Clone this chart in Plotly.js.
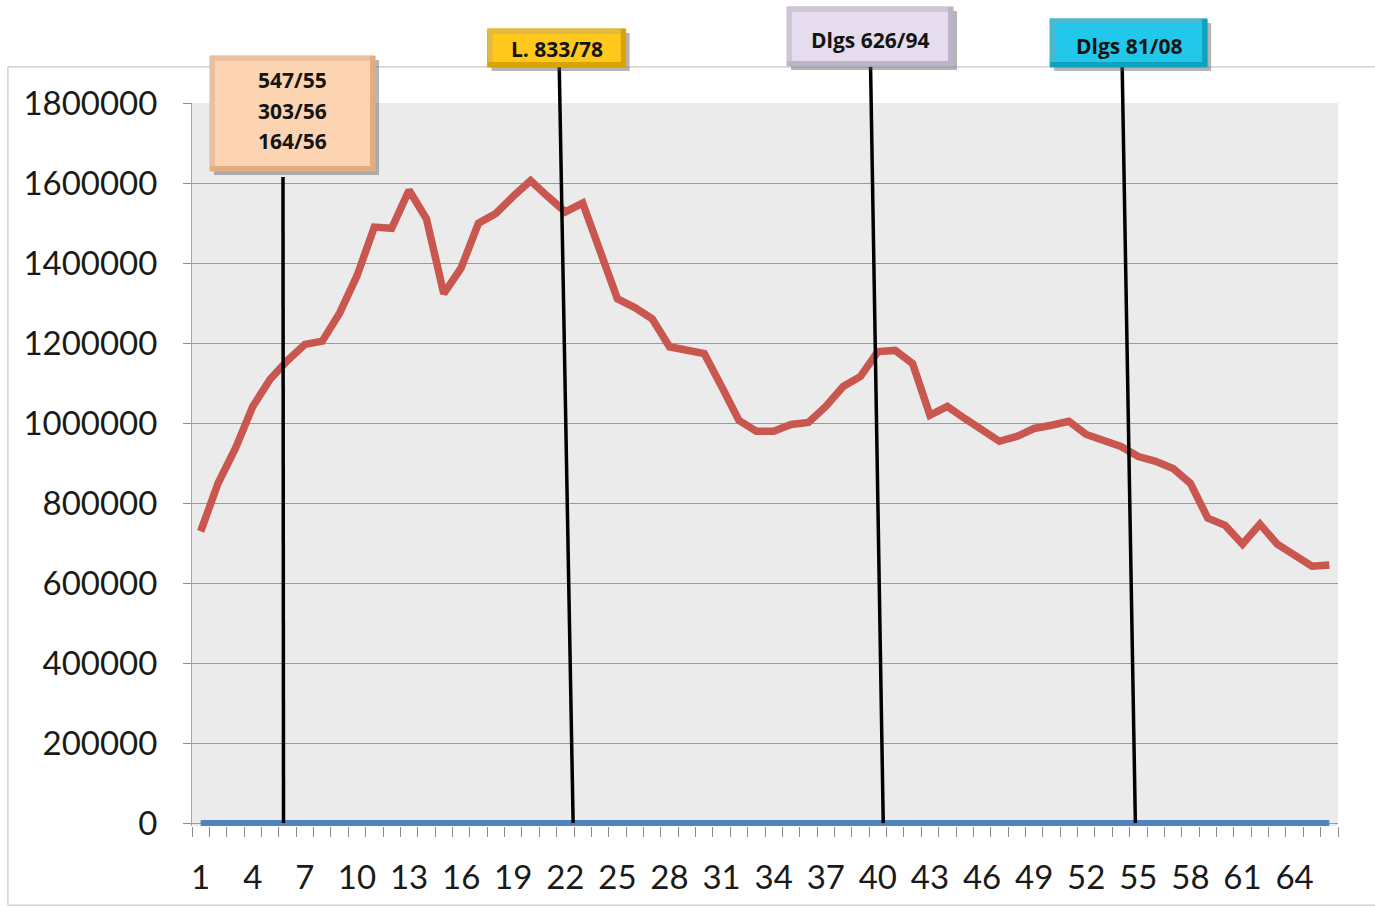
<!DOCTYPE html>
<html>
<head>
<meta charset="utf-8">
<script src="https://cdn.plot.ly/plotly-3.0.1.min.js"></script>
<style>html,body{margin:0;padding:0;background:#fff;}#chart{width:1375px;height:907px;}</style>
</head>
<body>
<div id="chart"></div>
<script>
const categories = [1,2,3,4,5,6,7,8,9,10,11,12,13,14,15,16,17,18,19,20,21,22,23,24,25,26,27,28,29,30,31,32,33,34,35,36,37,38,39,40,41,42,43,44,45,46,47,48,49,50,51,52,53,54,55,56,57,58,59,60,61,62,63,64,65,66];
const redValues = [730000,850000,937000,1042000,1110000,1157000,1197000,1205000,1275000,1368000,
  1490000,1487000,1582000,1511000,1324000,1388000,1500000,1524000,1567000,1606000,
  1566000,1528000,1550000,1436000,1311000,1289000,1261000,1191000,1184000,1174000,
  1092000,1007000,980000,980000,997000,1002000,1042000,1092000,1117000,1179000,
  1182000,1149000,1020000,1042000,1012000,982000,955000,967000,987000,995000,
  1005000,972000,955000,942000,917000,905000,887000,850000,763000,745000,
  698000,748000,698000,668000,643000,646000];
const blueValues = [0,0,0,0,0,0,0,0,0,0,0,0,0,0,0,0,0,0,0,0,0,0,0,0,0,0,0,0,0,0,0,0,0,0,0,0,0,0,0,0,0,0,0,0,0,0,0,0,0,0,0,0,0,0,0,0,0,0,0,0,0,0,0,0,0,0];
const xTickLabels = [1,4,7,10,13,16,19,22,25,28,31,34,37,40,43,46,49,52,55,58,61,64];
const yTickValues = [0,200000,400000,600000,800000,1000000,1200000,1400000,1600000,1800000];
const lawLabels = [['547/55','303/56','164/56'],['L. 833/78'],['Dlgs 626/94'],['Dlgs 81/08']];
const lawBottomX = [5.77, 22.45, 40.31, 54.83];
const lawTopX = [5.74, 21.65, 39.58, 54.07];

const boxStyles = [
  {bg:'#fcd4b2', edge:'#e2ad80', x:6.29, y:0.9855, w:165, h:115, top:0.8975, textY:[1.0319, 0.9889, 0.9474]},
  {bg:'#ffc81a', edge:'#d9a300', x:21.5, y:1.0762, w:138, h:38, top:1.05, textY:[1.0748]},
  {bg:'#e5dded', edge:'#bdb3c8', x:39.55, y:1.0921, w:166, h:59, top:1.05, textY:[1.0873]},
  {bg:'#22c8ea', edge:'#0ea2c0', x:54.44, y:1.0831, w:157, h:48, top:1.05, textY:[1.0789]}
];

const traces = [
  {x: categories, y: blueValues, type:'scatter', mode:'lines',
   line:{color:'#4f84be', width:7}, hoverinfo:'skip'},
  {x: categories, y: redValues, type:'scatter', mode:'lines',
   line:{color:'#c9564f', width:7.5}, hoverinfo:'skip'}
];

const shapes = [
  {type:'rect', xref:'paper', yref:'paper', x0:-0.1606, x1:1.05, y0:-0.1095, y1:1.0499,
   line:{color:'#bcbcbc', width:1}, fillcolor:'rgba(0,0,0,0)', layer:'below'}
];
lawBottomX.forEach((xb, i) => {
  shapes.push({type:'line', xref:'x', yref:'paper', x0:xb, y0:0.004, x1:lawTopX[i], y1:boxStyles[i].top,
    line:{color:'#000000', width:3.5}});
});
boxStyles.forEach((b) => {
  const common = {type:'rect', xref:'x', yref:'paper', xsizemode:'pixel', ysizemode:'pixel',
    xanchor:b.x, yanchor:b.y, layer:'above'};
  shapes.push(Object.assign({}, common, {x0:-b.w/2+4, x1:b.w/2+4, y0:-b.h/2-4, y1:b.h/2-4,
    fillcolor:'rgba(90,90,90,0.45)', line:{width:0}}));
  shapes.push(Object.assign({}, common, {x0:-b.w/2, x1:b.w/2, y0:-b.h/2, y1:b.h/2,
    fillcolor:b.edge, line:{color:b.edge, width:1}}));
  shapes.push(Object.assign({}, common, {x0:-b.w/2, x1:b.w/2-5, y0:-b.h/2+5, y1:b.h/2,
    fillcolor:'rgba(255,255,255,0.25)', line:{width:0}}));
  shapes.push(Object.assign({}, common, {x0:-b.w/2+5, x1:b.w/2-5, y0:-b.h/2+5, y1:b.h/2-5,
    fillcolor:b.bg, line:{width:0}}));
});

const annotations = [];
lawLabels.forEach((lines, i) => {
  lines.forEach((t, j) => {
    annotations.push({
      text:t, xref:'x', yref:'paper', x:boxStyles[i].x, y:boxStyles[i].textY[j],
      xanchor:'center', yanchor:'middle', showarrow:false,
      font:{family:'"Open Sans", "Noto Sans", sans-serif', size:21, color:'#141414', weight:700}
    });
  });
});

const layout = {
  width:1375, height:907,
  margin:{l:192, r:37, t:103, b:81, pad:0},
  paper_bgcolor:'#ffffff', plot_bgcolor:'#ebebeb',
  showlegend:false,
  font:{family:'Lato, "Open Sans", sans-serif', size:33, color:'#1a1a1a'},
  xaxis:{
    type:'linear', range:[0.5, 66.5], tickmode:'array', tickvals:xTickLabels,
    ticktext:xTickLabels.map(String), ticks:'', showgrid:false, zeroline:false,
    showline:false, ticklabelstandoff:29,
    minor:{ticks:'outside', tick0:0.5, dtick:1, ticklen:10, tickcolor:'#8c8c8c', tickwidth:1, showgrid:false},
    tickfont:{size:33, color:'#1a1a1a'}
  },
  yaxis:{
    range:[-6000, 1800000], tickmode:'array', tickvals:yTickValues,
    ticktext:yTickValues.map(String), ticks:'outside', ticklen:8, tickcolor:'#8c8c8c',
    showgrid:true, gridcolor:'#9a9a9a', gridwidth:1, zeroline:false,
    showline:true, linecolor:'#a6a6a6', linewidth:1, ticklabelstandoff:19,
    tickfont:{size:33, color:'#1a1a1a'}
  },
  shapes: shapes,
  annotations: annotations
};

Plotly.newPlot('chart', traces, layout, {staticPlot:true, displayModeBar:false});
</script>
</body>
</html>
